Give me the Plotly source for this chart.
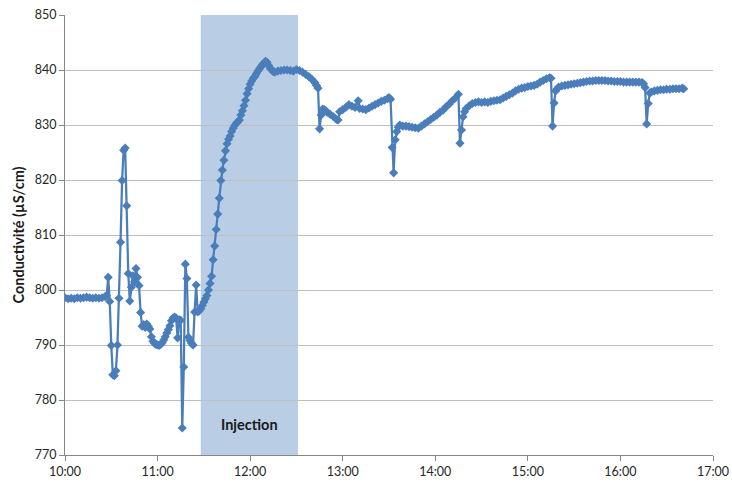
import plotly.graph_objects as go
from datetime import datetime, timedelta

# minutes after 10:00
minutes = [0, 2, 4, 6, 8, 10, 12, 14, 16, 18, 20, 22, 24, 26, 27,
           28, 29, 30, 31, 32, 33, 34, 35, 36, 37, 38, 39, 40, 41, 42, 43, 44, 45, 46, 47, 48, 49,
           50, 51, 52, 53, 54, 55, 56, 57, 58, 59, 60, 61, 62, 63, 64, 65, 66, 67, 68, 69, 70, 71,
           72, 73, 74, 75, 76, 77, 78, 79, 80, 81, 82, 83, 84, 85, 86, 87, 88, 89, 90, 91, 92, 93,
           94, 95, 96, 97, 98, 99, 100, 101, 102, 103, 104, 105, 106, 107, 108, 109, 110, 111, 112,
           113, 114, 115, 116, 117, 118, 119, 120, 121, 122, 123, 124, 125, 126, 127, 128, 129, 130,
           131, 132, 133, 134, 135, 136, 138, 140, 142, 144, 146, 148, 150, 152, 154, 156, 158, 160,
           162, 163, 164, 165, 166, 167, 168, 169, 170, 172, 174, 176, 177, 178, 180, 182, 184, 186,
           188, 190, 191, 193, 195, 197, 199, 201, 203, 205, 207, 209, 210, 211, 212, 213, 214, 215,
           216, 217, 219, 221, 223, 225, 227, 229, 231, 233, 235, 237, 239, 241, 243, 245, 247, 249,
           251, 253, 255, 256, 257, 258, 259, 260, 262, 264, 266, 268, 270, 272, 274, 276, 278, 280,
           282, 284, 286, 288, 290, 292, 294, 296, 298, 300, 302, 304, 306, 308, 310, 312, 314, 315,
           316, 317, 318, 319, 320, 322, 324, 326, 328, 330, 332, 334, 336, 338, 340, 342, 344, 346,
           348, 350, 352, 354, 356, 358, 360, 362, 364, 366, 368, 370, 372, 374, 375, 376, 377, 378,
           379, 380, 382, 384, 386, 388, 390, 392, 394, 396, 398, 400, 401]

conductivity = [798.6, 798.4, 798.5, 798.4, 798.6, 798.5, 798.6, 798.7, 798.6, 798.5, 798.6, 798.5, 798.6, 798.8, 799.0,
                802.3, 797.9, 789.9, 784.6, 784.4, 785.3, 790.0, 798.5, 808.7, 819.9, 825.4, 825.8, 815.3, 803.0, 798.0, 800.5, 802.6, 801.5, 803.9, 802.3, 800.8, 795.9,
                793.4, 793.7, 793.2, 793.8, 793.4, 792.9, 791.5, 790.7, 790.3, 790.1, 790.0, 789.9, 790.1, 790.4, 790.9, 791.5, 792.2, 792.8, 793.5, 794.4, 794.9, 795.1,
                794.9, 791.3, 794.6, 794.5, 774.9, 786.0, 804.7, 802.1, 791.4, 790.8, 790.3, 790.0, 796.0, 800.9, 796.0, 796.2, 796.6, 797.2, 797.8, 798.4, 799.0, 800.0,
                801.2, 802.5, 805.5, 808.0, 811.0, 813.8, 816.7, 819.9, 821.8, 823.6, 825.3, 826.6, 827.4, 828.0, 828.8, 829.4, 829.9, 830.3, 830.6,
                830.9, 831.8, 832.6, 833.5, 834.5, 835.7, 836.6, 837.4, 838.0, 838.5, 838.8, 839.3, 839.8, 840.2, 840.6, 841.0, 841.3, 841.6,
                841.4, 840.8, 840.3, 840.0, 839.7, 839.6, 839.8, 839.9, 840.0, 840.0, 839.9, 839.8, 840.1, 839.9, 839.6, 839.2, 838.8, 838.3,
                837.7, 837.2, 836.7, 829.3, 831.8, 832.9, 832.8, 832.6, 832.3, 831.9, 831.5, 831.0, 830.9, 832.4, 832.8, 833.2, 833.7, 833.4,
                833.2, 834.4, 833.0, 832.9, 832.8, 833.1, 833.4, 833.7, 834.0, 834.3, 834.5, 834.8, 835.0, 834.7, 825.9, 821.3, 827.3, 828.8,
                829.6, 830.0, 829.8, 829.8, 829.7, 829.6, 829.5, 829.4, 829.8, 830.2, 830.6, 831.0, 831.4, 831.8, 832.3, 832.7, 833.3, 833.8,
                834.4, 834.9, 835.6, 826.7, 829.1, 831.5, 832.4, 833.0, 833.5, 833.9, 834.1, 834.2, 834.1, 834.2, 834.1, 834.3, 834.4, 834.5,
                834.6, 834.9, 835.2, 835.5, 835.8, 836.2, 836.5, 836.7, 836.8, 837.0, 837.1, 837.2, 837.4, 837.8, 838.1, 838.4, 838.6, 838.5,
                829.8, 834.0, 836.2, 836.6, 836.9, 837.1, 837.2, 837.3, 837.4, 837.5, 837.6, 837.7, 837.8, 837.9, 838.0, 838.0, 838.1, 838.1,
                838.1, 838.1, 838.0, 838.0, 837.9, 837.9, 837.9, 837.8, 837.8, 837.8, 837.8, 837.8, 837.8, 837.7, 837.5, 836.8, 830.2, 833.9,
                835.8, 836.0, 836.2, 836.3, 836.4, 836.4, 836.5, 836.5, 836.6, 836.6, 836.6, 836.7, 836.6]

injection_start = "11:28"
injection_end = "12:31"
injection_label = "Injection"

day = "2020-01-01"
t0 = datetime(2020, 1, 1, 10, 0)
times = [t0 + timedelta(minutes=m) for m in minutes]

fig = go.Figure()
fig.add_trace(go.Scatter(
    x=times, y=conductivity, mode="lines+markers",
    line=dict(color="#4A7EBB", width=2.25),
    marker=dict(symbol="diamond", size=7, color="#4A7EBB"),
    showlegend=False,
))

fig.add_shape(type="rect", xref="x", yref="y domain",
              x0=f"{day} {injection_start}", x1=f"{day} {injection_end}", y0=0, y1=1,
              fillcolor="#B9CDE5", line=dict(width=0), layer="below")

fig.add_annotation(x=f"{day} 11:59:30", y=775.6, text=f"<b>{injection_label}</b>",
                   showarrow=False, font=dict(size=14.5, color="#1a1a1a",
                                              family="Lato, 'Open Sans', sans-serif"))

font = dict(family="Lato, 'Open Sans', sans-serif", size=12.5, color="#262626")
fig.update_layout(
    width=732, height=483,
    margin=dict(l=65, r=19, t=15, b=28),
    plot_bgcolor="white", paper_bgcolor="white",
    font=font,
)
fig.update_xaxes(
    type="date", range=[f"{day} 10:00", f"{day} 17:00"],
    dtick=3600000, tickformat="%H:%M", automargin=False,
    showgrid=False, showline=True, linecolor="#868686", linewidth=1,
    ticks="outside", ticklen=5, tickcolor="#868686", zeroline=False,
)
fig.update_yaxes(
    range=[770, 850], dtick=10, automargin=False,
    showgrid=True, gridcolor="#BFBFBF", gridwidth=1,
    showline=True, linecolor="#868686", linewidth=1,
    ticks="outside", ticklen=5, tickcolor="#868686", zeroline=False,
    title=dict(text="<b>Conductivité (µS/cm)</b>", font=dict(size=14.5, color="#1a1a1a"), standoff=6),
)

fig.write_html("out.html", config={"displayModeBar": False},
               post_script="document.body.style.margin='0';document.body.style.overflow='hidden';")
